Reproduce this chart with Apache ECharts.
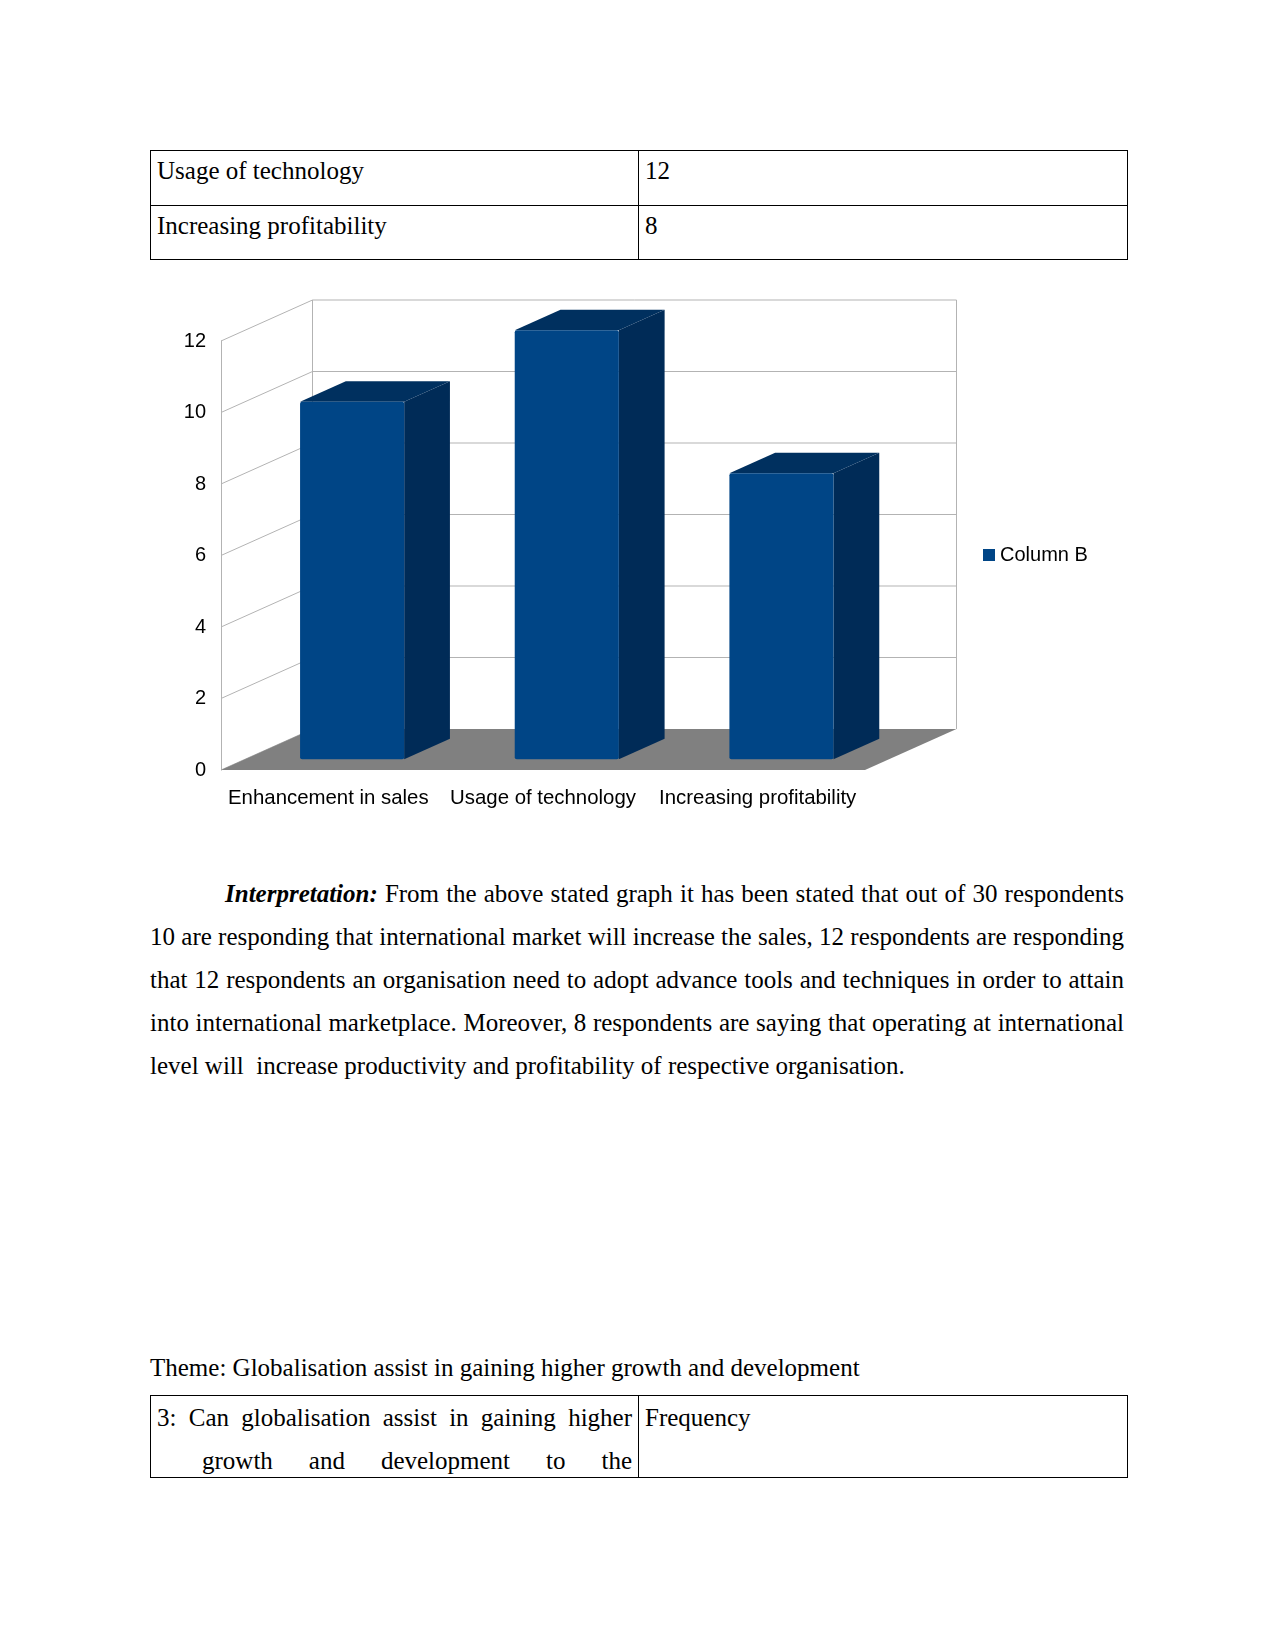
<!DOCTYPE html>
<html>
<head>
<meta charset="utf-8">
<script src="https://cdn.jsdelivr.net/npm/echarts@6/dist/echarts.min.js"></script>
<style>
  body { margin: 0; background: #fff; }
  #page { position: relative; width: 1275px; height: 1650px; font-family: "Liberation Serif", "Times New Roman", serif; font-size: 25px; color: #000; }
  table.doc { position: absolute; left: 150px; width: 977px; border-collapse: collapse; table-layout: fixed; }
  table.doc td { border: 1px solid #000; vertical-align: top; padding: 5px 6px 0 6px; line-height: 29px; }
  #chart { position: absolute; left: 0; top: 280px; width: 1275px; height: 540px; }
  .para { position: absolute; left: 150px; width: 974px; line-height: 43px; text-align: justify; }
  .cell2 { height: 81px; overflow: visible; line-height: 43px; }
</style>
</head>
<body>
<div id="page">
  <table class="doc" style="top:150px">
    <colgroup><col style="width:488px"><col style="width:489px"></colgroup>
    <tr style="height:55px"><td>Usage of technology</td><td>12</td></tr>
    <tr style="height:54px"><td>Increasing profitability</td><td>8</td></tr>
  </table>

  <div id="chart"></div>

  <div class="para" style="top:872px; text-indent:75px">
    <b><i>Interpretation:</i></b> From the above stated graph it has been stated that out of 30 respondents 10 are responding that international market will increase the sales, 12 respondents are responding that 12 respondents an organisation need to adopt advance tools and techniques in order to attain into international marketplace. Moreover, 8 respondents are saying that operating at international level will&nbsp; increase productivity and profitability of respective organisation.
  </div>

  <div class="para" style="top:1346px">Theme: Globalisation assist in gaining higher growth and development</div>

  <table class="doc" style="top:1395px">
    <colgroup><col style="width:488px"><col style="width:489px"></colgroup>
    <tr>
      <td style="padding:0 6px 0 51px"><div class="cell2" style="text-indent:-45px; text-align:justify; text-align-last:justify">3: Can globalisation assist in gaining higher growth and development to the</div></td>
      <td style="padding-top:0"><div class="cell2">Frequency</div></td>
    </tr>
  </table>
</div>

<script>
  // chart data
  var categories = ['Enhancement in sales', 'Usage of technology', 'Increasing profitability']
  var columnB = [10, 12, 8]
  var yTicks = [0, 2, 4, 6, 8, 10, 12]

  // 3d look: depth offset of the back wall and where bars sit inside it
  var DX = 91.5
  var DY = -41
  var F_FRONT = 0.26
  var F_BACK = 0.76
  var BAR_WIDTH = 0.485
  var WALL = '#b3b3b3'

  function line(x1, y1, x2, y2) {
    return { type: 'line', shape: { x1: x1, y1: y1, x2: x2, y2: y2 }, style: { stroke: WALL, lineWidth: 1 } }
  }

  function renderBackdrop(params, api) {
    var band = api.size([1, 0])[0]
    var left = api.coord([0, 0])[0] - band / 2
    var right = api.coord([categories.length - 1, 0])[0] + band / 2
    var y0 = api.coord([0, 0])[1]
    var yTop = api.coord([0, yTicks[yTicks.length - 1]])[1]
    var children = []
    // side + back wall lines
    yTicks.forEach(function (t) {
      var y = api.coord([0, t])[1]
      children.push(line(left, y, left + DX, y + DY))
      if (t > 0) children.push(line(left + DX, y + DY, right + DX, y + DY))
    })
    children.push(line(left + DX, yTop + DY, left + DX, y0 + DY))
    children.push(line(right + DX, yTop + DY, right + DX, y0 + DY))
    // floor
    children.push({
      type: 'polygon',
      shape: { points: [[left, y0], [right, y0], [right + DX, y0 + DY], [left + DX, y0 + DY]] },
      style: { fill: '#808080' }
    })
    return { type: 'group', children: children }
  }

  function renderBar(params, api) {
    var i = api.value(0)
    var v = api.value(1)
    var base = api.coord([i, 0])
    var top = api.coord([i, v])
    var w = api.size([1, 0])[0] * BAR_WIDTH
    var x0 = base[0] - w / 2 + DX * F_FRONT
    var yb = base[1] + DY * F_FRONT
    var yt = top[1] + DY * F_FRONT
    var dx = DX * (F_BACK - F_FRONT)
    var dy = DY * (F_BACK - F_FRONT)
    return {
      type: 'group',
      children: [
        {
          type: 'polygon',
          shape: { points: [[x0 + w, yt], [x0 + w + dx, yt + dy], [x0 + w + dx, yb + dy], [x0 + w, yb]] },
          style: { fill: '#002b57' }
        },
        {
          type: 'polygon',
          shape: { points: [[x0, yt], [x0 + dx, yt + dy], [x0 + w + dx, yt + dy], [x0 + w, yt]] },
          style: { fill: '#00305f' }
        },
        {
          type: 'rect',
          shape: { x: x0, y: yt, width: w, height: yb - yt, r: 2 },
          style: { fill: '#004586' }
        }
      ]
    }
  }

  var chart = echarts.init(document.getElementById('chart'))
  var option = {
    animation: false,
    textStyle: { fontFamily: '"Liberation Sans", Arial, sans-serif' },
    legend: {
      data: ['Column B'],
      left: 978,
      top: 260,
      icon: 'rect',
      itemWidth: 12,
      itemHeight: 12,
      itemGap: 5,
      textStyle: { fontSize: 20, color: '#000' }
    },
    grid: { left: 221, top: 61, width: 644, height: 429 },
    xAxis: {
      type: 'category',
      data: categories,
      axisLine: { show: false },
      axisTick: { show: false },
      axisLabel: { interval: 0, fontSize: 20.4, color: '#000', margin: 18 }
    },
    yAxis: {
      type: 'value',
      min: 0,
      max: 12,
      interval: 2,
      axisLine: { show: true, lineStyle: { color: WALL, width: 1 } },
      axisTick: { show: false },
      splitLine: { show: false },
      axisLabel: { fontSize: 20, color: '#000', margin: 15 }
    },
    series: [
      {
        name: 'backdrop',
        type: 'custom',
        silent: true,
        z: 1,
        renderItem: renderBackdrop,
        data: [[0, 0]]
      },
      {
        name: 'Column B',
        type: 'custom',
        z: 2,
        itemStyle: { color: '#004586' },
        renderItem: renderBar,
        encode: { x: 0, y: 1 },
        data: columnB.map(function (v, i) { return [i, v] })
      }
    ]
  }
  chart.setOption(option)
</script>
</body>
</html>
